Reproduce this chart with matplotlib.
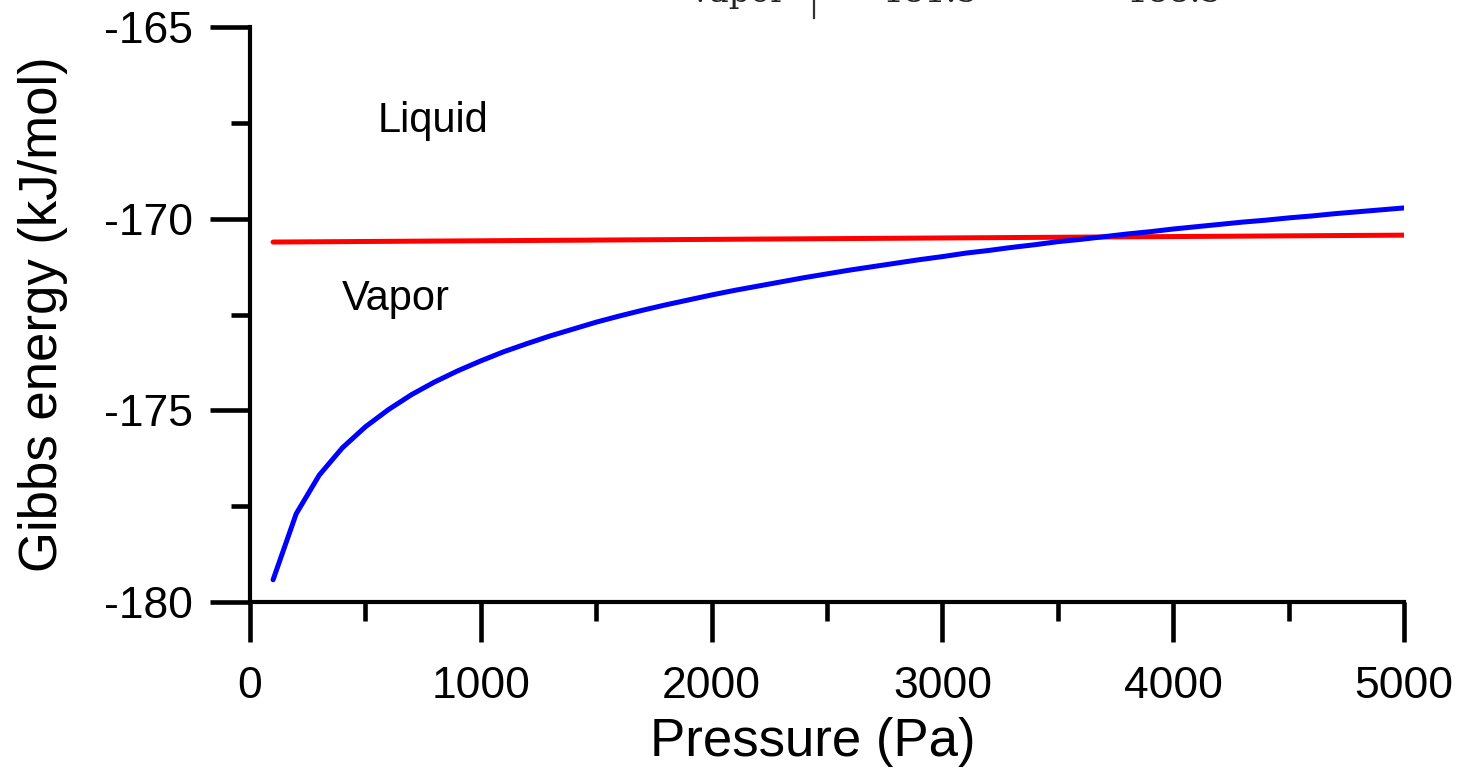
import numpy as np
import matplotlib
matplotlib.use("Agg")
import matplotlib.pyplot as plt
from matplotlib.lines import Line2D
from matplotlib.ticker import MultipleLocator

plt.rcParams['font.family'] = ['Liberation Sans', 'DejaVu Sans']
plt.rcParams['axes.unicode_minus'] = False

# pressure grid (Pa) and Gibbs energies (kJ/mol)
pressure = [100, 200, 300, 400, 500, 600, 700, 800, 900, 1000,
            1100, 1200, 1300, 1400, 1500, 1600, 1700, 1800, 1900, 2000,
            2100, 2200, 2300, 2400, 2500, 2600, 2700, 2800, 2900, 3000,
            3100, 3200, 3300, 3400, 3500, 3600, 3700, 3800, 3900, 4000,
            4100, 4200, 4300, 4400, 4500, 4600, 4700, 4800, 4900, 5000]
g_vapor = [-179.42, -177.70, -176.69, -175.98, -175.43, -174.98, -174.59, -174.26, -173.97, -173.71,
           -173.47, -173.26, -173.06, -172.88, -172.70, -172.54, -172.39, -172.25, -172.12, -171.99,
           -171.87, -171.76, -171.65, -171.54, -171.44, -171.34, -171.25, -171.16, -171.07, -170.99,
           -170.90, -170.83, -170.75, -170.68, -170.60, -170.54, -170.47, -170.40, -170.34, -170.27,
           -170.21, -170.15, -170.09, -170.04, -169.98, -169.93, -169.87, -169.82, -169.77, -169.72]
p_liquid = [100, 5000]
g_liquid = [-170.61, -170.43]

fig = plt.figure(figsize=(14.65, 7.7), dpi=100)
ax = fig.add_axes([250/1465, 168/770, 1154/1465, 575/770])

ax.plot(p_liquid, g_liquid, color="#ff0000", lw=3.6, solid_capstyle="round")
ax.plot(pressure, g_vapor, color="#0000ff", lw=3.6, solid_capstyle="round")

ax.set_xlim(0, 5000)
ax.set_ylim(-180, -165)
ax.xaxis.set_major_locator(MultipleLocator(1000))
ax.xaxis.set_minor_locator(MultipleLocator(500))
ax.yaxis.set_major_locator(MultipleLocator(5))
ax.yaxis.set_minor_locator(MultipleLocator(2.5))

for s in ["top", "right"]:
    ax.spines[s].set_visible(False)
for s in ["left", "bottom"]:
    ax.spines[s].set_linewidth(3)

ax.tick_params(axis="x", which="major", length=29, width=3.3, labelsize=32, pad=17)
ax.tick_params(axis="x", which="minor", length=14, width=3.3)
ax.tick_params(axis="y", which="major", length=29, width=3.3, labelsize=32, pad=12)
ax.tick_params(axis="y", which="minor", length=14, width=3.3)

ax.set_xlabel("Pressure (Pa)", fontsize=38, va="baseline")
ax.xaxis.set_label_coords(0.488, -0.268)
ax.set_ylabel("Gibbs energy (kJ/mol)", fontsize=38, labelpad=26)

ax.text(555, -167.74, "Liquid", fontsize=30, va="baseline")
ax.text(399, -172.38, "Vapor", fontsize=30, va="baseline")

# clipped fragment of a table at the very top of the image
frag = dict(fontsize=24, family="DejaVu Serif", color="#222222", va="baseline")
fig.text(690/1465, 0.9974, "vapor", **frag)
fig.text(883/1465, 0.9974, "181.5", **frag)
fig.text(1127/1465, 0.9974, "188.5", **frag)
fig.add_artist(Line2D([814/1465, 814/1465], [1.0, 1 - 18/770], color="#333333", lw=1.6))

fig.savefig("out.png", dpi=100)
